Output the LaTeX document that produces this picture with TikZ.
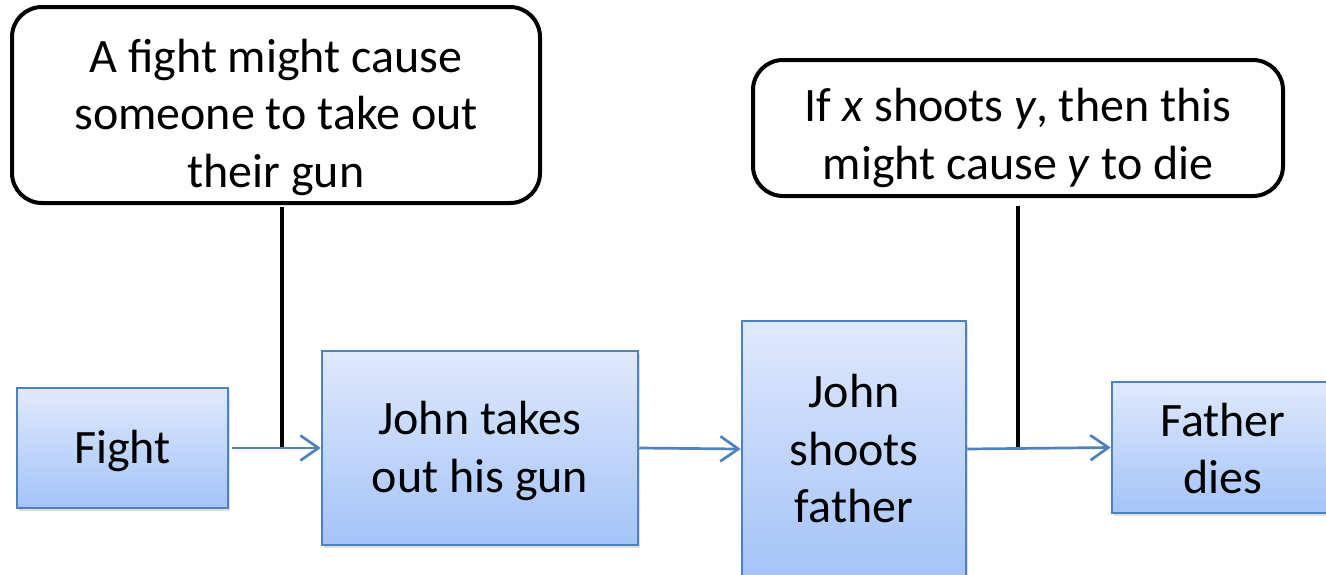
\documentclass[tikz,border=0pt]{standalone}
\usepackage{fontspec}
\setmainfont{Carlito}
\usetikzlibrary{arrows.meta,shadows}

\definecolor{edgeblue}{RGB}{79,129,189}
\definecolor{filltop}{RGB}{223,233,252}
\definecolor{fillbot}{RGB}{164,195,248}

\tikzset{
  txt/.style={align=center, inner sep=0pt, font=\fontsize{48}{57.5}\selectfont},
  eventbox/.style={
    draw=edgeblue, line width=2.5pt, top color=filltop, bottom color=fillbot,
    inner sep=0pt,
    drop shadow={opacity=0.25, shadow xshift=2pt, shadow yshift=-3pt}
  },
  rulebox/.style={
    draw=black, line width=4pt, rounded corners=30pt, fill=white, inner sep=0pt
  },
  flow/.style={
    draw=edgeblue, line width=2.7pt,
    -{Straight Barb[length=18pt,width=25pt,line width=2.7pt]}
  },
  link/.style={draw=black, line width=4.8pt}
}

\begin{document}
\begin{tikzpicture}[x=1pt,y=-1pt]
  \useasboundingbox (0,0) rectangle (1326,574);

  % event chain
  \node[eventbox, minimum width=211pt, minimum height=120pt,
        label={[txt, yshift=-3pt]center:Fight}] (fight) at (122.5,448) {};
  \node[eventbox, minimum width=316pt, minimum height=194pt,
        label={[txt, yshift=-3pt]center:{John takes\\out his gun}}] (gun) at (480,448) {};
  \node[eventbox, minimum width=224pt, minimum height=256pt,
        label={[txt, yshift=0pt]center:{John\\shoots\\father}}] (shoot) at (854,449) {};
  \node[eventbox, minimum width=222pt, minimum height=131pt,
        label={[txt, yshift=-1pt]center:{Father\\dies}}] (dies) at (1223,447.5) {};

  % causal rules
  \node[rulebox, minimum width=528pt, minimum height=196pt,
        label={[txt, yshift=-12pt]center:{A fight might cause\\someone to take out\\their gun}}]
        (rule1) at (276,105) {};
  \node[rulebox, minimum width=530pt, minimum height=136pt,
        label={[txt, yshift=-10pt]center:{If \textit{x} shoots \textit{y}, then this\\might cause \textit{y} to die}}]
        (rule2) at (1018,128) {};

  % junctions where the rules meet the chain
  \coordinate (j1) at (282,448);
  \coordinate (j2) at (1018,448);

  \draw[link] (rule1.south -| j1) ++(0,2) -- (j1);
  \draw[link] (rule2.south -| j2) ++(0,8) -- (j2);

  \draw[flow] (fight.east) ++(3,0) -- (gun.west);
  \draw[flow] (gun.east) -- (shoot.west);
  \draw[flow] (shoot.east) -- (dies.west);
\end{tikzpicture}
\end{document}
